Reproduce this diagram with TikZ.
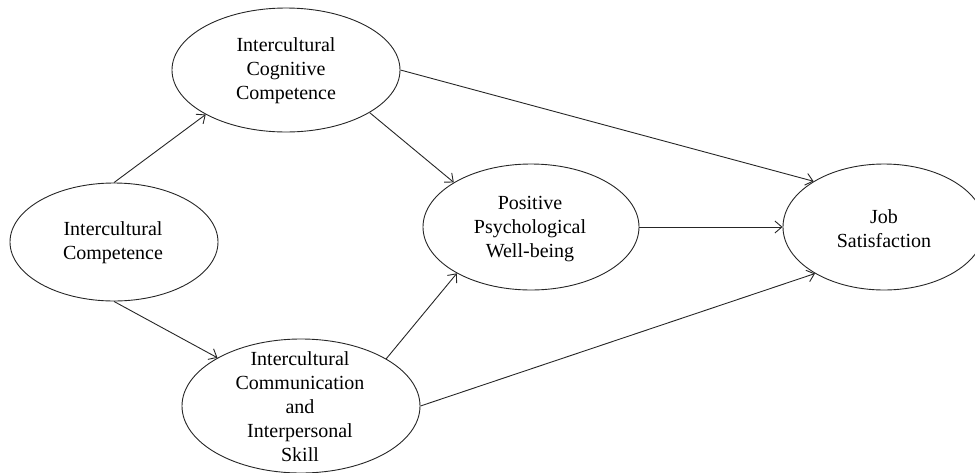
\documentclass[tikz,border=0pt]{standalone}
\usepackage{fontspec}
\setmainfont{Liberation Serif}
\usetikzlibrary{shapes.geometric,arrows.meta}
\begin{document}
\begin{tikzpicture}[x=1pt,y=-1pt,
  oval/.style={draw=black!85, line width=0.9pt, ellipse, inner sep=0pt},
  lbl/.style={align=center, font=\fontsize{20}{24}\selectfont, inner sep=0pt, text=black},
  link/.style={draw=black!85, line width=0.9pt, -{Straight Barb[length=7pt,width=12pt]}}]
\useasboundingbox (0,0) rectangle (975,472);
\clip (0,0) rectangle (975,472);
% ellipses
\node[oval, minimum width=208pt, minimum height=118pt] (ic) at (114,242) {};
\node[oval, minimum width=228pt, minimum height=124pt] (icc) at (286,70) {};
\node[oval, minimum width=216pt, minimum height=126pt] (ppw) at (531,227) {};
\node[oval, minimum width=202pt, minimum height=126pt] (js) at (884,227) {};
\node[oval, minimum width=238pt, minimum height=134pt] (com) at (301,406) {};
% labels
\node[lbl] (icT) at (113,243) {Intercultural\\Competence};
\node[lbl] (iccT) at (286,71) {Intercultural\\Cognitive\\Competence};
\node[lbl] (ppwT) at (530,229) {Positive\\Psychological\\Well-being};
\node[lbl] (jsT) at (884,229) {Job\\Satisfaction};
\node[lbl] (comT) at (300,407) {Intercultural\\Communication\\and\\Interpersonal\\Skill};
% connectors
\draw[link] (ic.90) -- (icc.-151.7);
\draw[link] (ic.-90) -- (com.150.8);
\draw[link] (icc.-27.7) -- (ppw.150.6);
\draw[link] (icc.0) -- (js.147.8);
\draw[link] (ppw.0) -- (js.180);
\draw[link] (com.29.2) -- (ppw.-148.6);
\draw[link] (com.0) -- (js.-146.7);
\end{tikzpicture}
\end{document}
